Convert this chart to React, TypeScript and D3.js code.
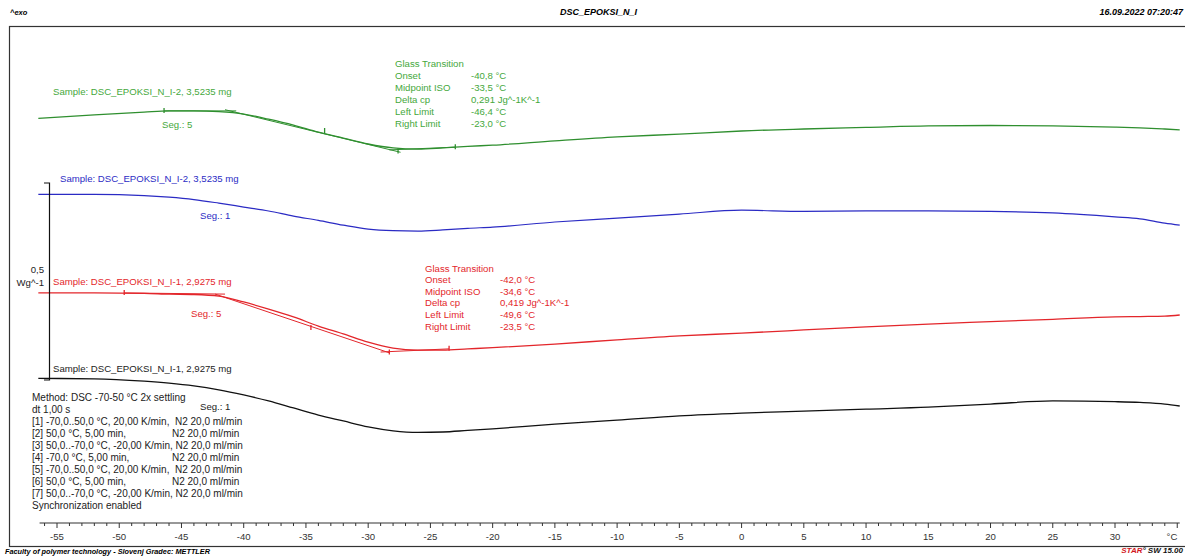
import * as d3 from "d3";
import { useEffect } from "react";

// temperature grid (°C) shared by all four DSC traces
const temps = [-56.5, -52, -48, -46, -44, -42, -40, -38, -36, -34, -32, -30, -28, -26, -24, -22, -20, -15, -10, -5, 0, 5, 10, 15, 20, 25, 30, 32, 34, 35.2];

// heat flow, W/g (curves stacked with offsets as in STARe)
const greenSeg5 = [0.664, 0.673, 0.68, 0.683, 0.683, 0.681, 0.675, 0.662, 0.647, 0.629, 0.614, 0.599, 0.589, 0.586, 0.589, 0.593, 0.596, 0.607, 0.617, 0.624, 0.632, 0.637, 0.641, 0.645, 0.646, 0.645, 0.642, 0.64, 0.637, 0.635];
const blueSeg1 = [0.471, 0.471, 0.468, 0.464, 0.458, 0.449, 0.439, 0.429, 0.416, 0.405, 0.393, 0.383, 0.379, 0.378, 0.381, 0.385, 0.388, 0.401, 0.411, 0.421, 0.431, 0.428, 0.429, 0.429, 0.428, 0.424, 0.414, 0.409, 0.398, 0.393];
const redSeg5 = [0.221, 0.221, 0.22, 0.218, 0.217, 0.213, 0.198, 0.18, 0.16, 0.137, 0.117, 0.096, 0.081, 0.076, 0.076, 0.079, 0.082, 0.091, 0.102, 0.112, 0.119, 0.127, 0.135, 0.142, 0.148, 0.154, 0.16, 0.161, 0.162, 0.165];
const blackSeg1 = [0.004, 0.003, -0.003, -0.008, -0.015, -0.025, -0.038, -0.053, -0.071, -0.089, -0.104, -0.119, -0.129, -0.133, -0.132, -0.128, -0.124, -0.112, -0.102, -0.091, -0.084, -0.079, -0.074, -0.069, -0.061, -0.053, -0.055, -0.057, -0.061, -0.066];

// glass transition construction lines [[T, v], [T, v]]
const greenGtLines = [
  [[-46.4, 0.683], [-40.6, 0.683]],
  [[-41.5, 0.686], [-27.4, 0.578]],
  [[-28.3, 0.584], [-23.0, 0.591]],
];
const greenGtMarks = [[-46.4, 0.683], [-33.5, 0.632], [-27.6, 0.58], [-23.0, 0.591]];
const redGtLines = [
  [[-49.6, 0.221], [-41.5, 0.218]],
  [[-42.3, 0.218], [-28.3, 0.069]],
  [[-29.0, 0.071], [-23.5, 0.079]],
];
const redGtMarks = [[-49.6, 0.221], [-34.6, 0.132], [-28.3, 0.07], [-23.5, 0.079]];

const greenGtText = [["Glass Transition", ""], ["Onset", "-40,8 °C"], ["Midpoint ISO", "-33,5 °C"], ["Delta cp", "0,291 Jg^-1K^-1"], ["Left Limit", "-46,4 °C"], ["Right Limit", "-23,0 °C"]];
const redGtText = [["Glass Transition", ""], ["Onset", "-42,0 °C"], ["Midpoint ISO", "-34,6 °C"], ["Delta cp", "0,419 Jg^-1K^-1"], ["Left Limit", "-49,6 °C"], ["Right Limit", "-23,5 °C"]];

const methodLines = [
  "Method: DSC -70-50 °C 2x settling",
  "dt 1,00 s",
  "[1] -70,0..50,0 °C, 20,00 K/min,  N2 20,0 ml/min",
  "[2] 50,0 °C, 5,00 min,|N2 20,0 ml/min",
  "[3] 50,0..-70,0 °C, -20,00 K/min, N2 20,0 ml/min",
  "[4] -70,0 °C, 5,00 min,|N2 20,0 ml/min",
  "[5] -70,0..50,0 °C, 20,00 K/min,  N2 20,0 ml/min",
  "[6] 50,0 °C, 5,00 min,|N2 20,0 ml/min",
  "[7] 50,0..-70,0 °C, -20,00 K/min, N2 20,0 ml/min",
  "Synchronization enabled",
];

const majorTicks = [-55, -50, -45, -40, -35, -30, -25, -20, -15, -10, -5, 0, 5, 10, 15, 20, 25, 30];

const W = 1185;
const H = 556;
const FONT = "'Liberation Sans', Arial, sans-serif";
const FS = 9.6;

const GREEN = "#2f8f2f";
const GREEN_TXT = "#45a83c";
const BLUE = "#2b2bc4";
const RED = "#e3262b";

export default function App() {
  useEffect(() => {
    document.body.style.margin = "0";
  }, []);

  const x = d3.scaleLinear().domain([-55, 30]).range([57, 1115]);
  const y = d3.scaleLinear().domain([0, 0.5]).range([380, 183]);

  const line = d3
    .line<number>()
    .x((_, i) => x(temps[i]))
    .y((d) => y(d))
    .curve(d3.curveMonotoneX);

  const seg = d3
    .line<number[]>()
    .x((d) => x(d[0]))
    .y((d) => y(d[1]));

  const minor = d3.range(-56, 36, 1);

  const txt = (s: string, tx: number, ty: number, fill: string, key: string, anchor = "start", fs = FS) => (
    <text key={key} x={tx} y={ty} fill={fill} fontSize={fs} fontFamily={FONT} textAnchor={anchor} style={{ whiteSpace: "pre" }}>
      {s}
    </text>
  );

  const gtBlock = (rows: string[][], lx: number, vx: number, top: number, step: number, fill: string, k: string) =>
    rows.map((r, i) => (
      <g key={k + i}>
        {txt(r[0], lx, top + i * step, fill, k + "l" + i)}
        {r[1] && txt(r[1], vx, top + i * step, fill, k + "v" + i)}
      </g>
    ));

  const construction = (lines: number[][][], marks: number[][], color: string, k: string) => (
    <g key={k}>
      {lines.map((l, i) => (
        <path key={i} d={seg(l) || ""} fill="none" stroke={color} strokeWidth={1} />
      ))}
      {marks.map((m, i) => (
        <line key={"m" + i} x1={x(m[0])} x2={x(m[0])} y1={y(m[1]) - 3} y2={y(m[1]) + 2} stroke={color} strokeWidth={1.3} />
      ))}
    </g>
  );

  return (
    <svg width={W} height={H} style={{ position: "absolute", left: 0, top: 0, background: "#fff" }}>
      {/* header */}
      <text x={10} y={15} fontSize={7.5} fontWeight="bold" fontStyle="italic" fontFamily={FONT}>^exo</text>
      <text x={560} y={15} fontSize={9} fontWeight="bold" fontStyle="italic" fontFamily={FONT}>DSC_EPOKSI_N_I</text>
      <text x={1183} y={15} fontSize={9} fontWeight="bold" fontStyle="italic" fontFamily={FONT} textAnchor="end">16.09.2022 07:20:47</text>

      {/* frame */}
      <rect x={9.5} y={26.5} width={1185} height={520} fill="none" stroke="#333" strokeWidth={1.2} />

      {/* curves */}
      <path d={line(greenSeg5) || ""} fill="none" stroke={GREEN} strokeWidth={1.3} />
      <path d={line(blueSeg1) || ""} fill="none" stroke={BLUE} strokeWidth={1.2} />
      <path d={line(redSeg5) || ""} fill="none" stroke={RED} strokeWidth={1.3} />
      <path d={line(blackSeg1) || ""} fill="none" stroke="#111" strokeWidth={1.3} />
      {construction(greenGtLines, greenGtMarks, GREEN, "gc")}
      {construction(redGtLines, redGtMarks, RED, "rc")}

      {/* scale bar */}
      <path d={`M44,${y(0.5)}H49.5V${y(0)}H44`} fill="none" stroke="#111" strokeWidth={1.2} />
      {txt("0,5", 44, 272.5, "#222", "sb1", "end")}
      {txt("Wg^-1", 44, 285.5, "#222", "sb2", "end")}

      {/* labels */}
      {txt("Sample: DSC_EPOKSI_N_I-2, 3,5235 mg", 53, 94.5, GREEN_TXT, "gs")}
      {txt("Seg.: 5", 162, 127.5, GREEN_TXT, "gseg")}
      {gtBlock(greenGtText, 395, 471, 66.5, 12, GREEN_TXT, "g")}
      {txt("Sample: DSC_EPOKSI_N_I-2, 3,5235 mg", 60, 181.5, BLUE, "bs")}
      {txt("Seg.: 1", 200, 218.5, BLUE, "bseg")}
      {txt("Sample: DSC_EPOKSI_N_I-1, 2,9275 mg", 53, 284.5, RED, "rs")}
      {txt("Seg.: 5", 191, 316.5, RED, "rseg")}
      {gtBlock(redGtText, 425, 500, 271.5, 11.6, RED, "r")}
      {txt("Sample: DSC_EPOKSI_N_I-1, 2,9275 mg", 53, 371.5, "#222", "ks")}
      {txt("Seg.: 1", 200, 409.5, "#222", "kseg")}

      {/* method */}
      {methodLines.map((l, i) => {
        const [a, b] = l.split("|");
        const ty = 400.5 + i * 12.1;
        return (
          <g key={"m" + i}>
            {txt(a, 32, ty, "#222", "ma" + i, "start", 10)}
            {b && txt(b, 172, ty, "#222", "mb" + i, "start", 10)}
          </g>
        );
      })}

      {/* x axis */}
      <line x1={x(-56.4)} x2={x(35.2)} y1={523} y2={523} stroke="#333" strokeWidth={1.2} />
      {minor.map((t) => (
        <line key={"t" + t} x1={x(t)} x2={x(t)} y1={523} y2={t % 5 === 0 ? 528 : 526} stroke="#333" strokeWidth={1} />
      ))}
      {majorTicks.map((t) => txt(String(t), x(t), 540, "#333", "l" + t, "middle"))}
      {txt("°C", 1172, 540, "#333", "unit", "middle")}

      {/* footer */}
      <text x={5} y={554} fontSize={7.5} fontWeight="bold" fontStyle="italic" fontFamily={FONT} textLength={205} lengthAdjust="spacingAndGlyphs">
        Faculty of polymer technology - Slovenj Gradec: METTLER
      </text>
      <text x={1183} y={553} fontSize={8} fontWeight="bold" fontStyle="italic" fontFamily={FONT} textAnchor="end">
        <tspan fill="#d2161c">STAR</tspan>
        <tspan fill="#111">° SW 15.00</tspan>
      </text>
    </svg>
  );
}
